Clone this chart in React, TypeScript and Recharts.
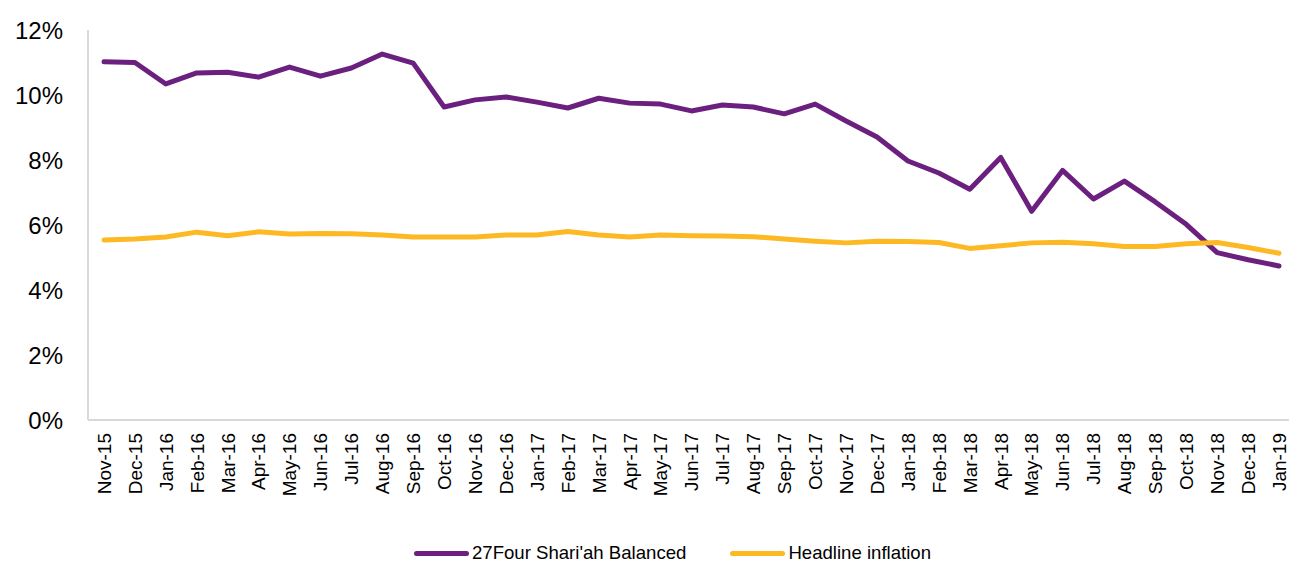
import { LineChart, Line, XAxis, YAxis, Legend } from "recharts";

const months = [
    "Nov-15", "Dec-15",
    "Jan-16", "Feb-16", "Mar-16", "Apr-16", "May-16", "Jun-16",
    "Jul-16", "Aug-16", "Sep-16", "Oct-16", "Nov-16", "Dec-16",
    "Jan-17", "Feb-17", "Mar-17", "Apr-17", "May-17", "Jun-17",
    "Jul-17", "Aug-17", "Sep-17", "Oct-17", "Nov-17", "Dec-17",
    "Jan-18", "Feb-18", "Mar-18", "Apr-18", "May-18", "Jun-18",
    "Jul-18", "Aug-18", "Sep-18", "Oct-18", "Nov-18", "Dec-18",
    "Jan-19",
];

const fundReturn = [
    11.02, 11.0,
    10.34, 10.68, 10.7, 10.55, 10.86, 10.58,
    10.83, 11.26, 10.98, 9.63, 9.85, 9.94,
    9.78, 9.6, 9.9, 9.75, 9.72, 9.51,
    9.69, 9.63, 9.42, 9.72, 9.2, 8.71,
    7.97, 7.6, 7.1, 8.08, 6.42, 7.68,
    6.8, 7.35, 6.71, 6.02, 5.15, 4.93,
    4.74,
];

const inflation = [
    5.54, 5.57,
    5.63, 5.78, 5.67, 5.79, 5.72, 5.74,
    5.73, 5.69, 5.63, 5.63, 5.63, 5.69,
    5.69, 5.8, 5.69, 5.63, 5.69, 5.67,
    5.66, 5.64, 5.57, 5.5, 5.45, 5.5,
    5.49, 5.46, 5.28, 5.36, 5.45, 5.47,
    5.42, 5.34, 5.34, 5.42, 5.46, 5.31,
    5.13,
];

const yTicks = [0, 2, 4, 6, 8, 10, 12];

const FONT = "'Liberation Sans', Arial, sans-serif";
const PURPLE = "#6b1f7e";
const YELLOW = "#fdb924";

const data = months.map((m, i) => ({
    month: m,
    fund: fundReturn[i],
    cpi: inflation[i],
}));

const MonthTick = (props: any) => {
    const { x, y, payload } = props;
    return (
        <g transform={`translate(${x},${y})`}>
            <text
                transform="rotate(-90)"
                x={-13}
                y={0}
                dy="0.36em"
                textAnchor="end"
                fontSize={19}
                fontFamily={FONT}
                fill="#000"
            >
                {payload.value}
            </text>
        </g>
    );
};

const legendItems = [
    { label: "27Four Shari'ah Balanced", color: PURPLE },
    { label: "Headline inflation", color: YELLOW },
];

const ChartLegend = () => (
    <div
        style={{
            height: 40,
            boxSizing: "border-box",
            paddingTop: 22,
            paddingLeft: 56,
            display: "flex",
            justifyContent: "center",
            gap: 44,
            fontFamily: FONT,
            fontSize: 18.6,
            lineHeight: "20px",
            color: "#000",
        }}
    >
        {legendItems.map((item) => (
            <div key={item.label} style={{ display: "flex", alignItems: "center" }}>
                <span
                    style={{
                        display: "inline-block",
                        width: 55,
                        height: 5,
                        borderRadius: 3,
                        background: item.color,
                        marginRight: 3,
                    }}
                />
                <span>{item.label}</span>
            </div>
        ))}
    </div>
);

const App = () => {
    return (
        <div style={{ position: "absolute", left: 0, top: 0 }}>
            <LineChart
                width={1289}
                height={562}
                data={data}
                margin={{ top: 30, right: 0, bottom: 0, left: 0 }}
            >
                <XAxis
                    dataKey="month"
                    interval={0}
                    height={102}
                    padding={{ left: 16, right: 10 }}
                    tickLine={false}
                    tickSize={0}
                    tickMargin={0}
                    stroke="#d9d9d9"
                    strokeWidth={2}
                    tick={<MonthTick />}
                />
                <YAxis
                    width={88}
                    domain={[0, 12]}
                    ticks={yTicks}
                    tickFormatter={(v: number) => `${v}%`}
                    tickLine={false}
                    tickSize={0}
                    tickMargin={25}
                    stroke="#d9d9d9"
                    strokeWidth={2}
                    tick={{ fill: "#000", fontSize: 24, fontFamily: FONT }}
                />
                <Legend verticalAlign="bottom" content={<ChartLegend />} />
                <Line
                    type="linear"
                    dataKey="fund"
                    stroke={PURPLE}
                    strokeWidth={5}
                    strokeLinejoin="round"
                    strokeLinecap="round"
                    dot={false}
                    isAnimationActive={false}
                />
                <Line
                    type="linear"
                    dataKey="cpi"
                    stroke={YELLOW}
                    strokeWidth={5}
                    strokeLinejoin="round"
                    strokeLinecap="round"
                    dot={false}
                    isAnimationActive={false}
                />
            </LineChart>
        </div>
    );
};

export default App;
